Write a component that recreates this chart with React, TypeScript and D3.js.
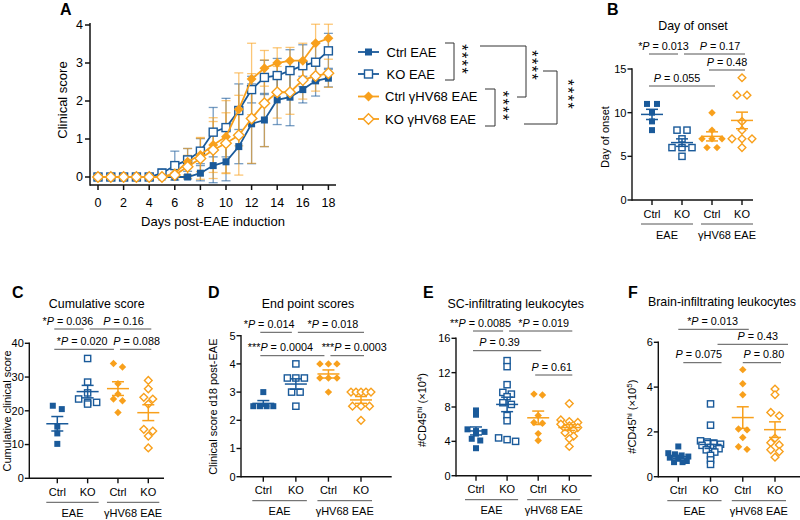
import React from 'react';
import * as d3 from 'd3';

const FONT = "'Liberation Sans', Arial, Helvetica, sans-serif";
const BLUE = '#1a5a9a';
const ORANGE = '#f8a01c';
const GRAY = '#555555';

// ---------------- Panel A data ----------------
const days = [0, 1, 2, 3, 4, 5, 6, 7, 8, 9, 10, 11, 12, 13, 14, 15, 16, 17, 18];
const dayTicks = [0, 2, 4, 6, 8, 10, 12, 14, 16, 18];
const scoreTicks = [0, 1, 2, 3, 4];
const seriesNames = ['Ctrl EAE', 'KO EAE', 'Ctrl γHV68 EAE', 'KO γHV68 EAE'];
const ctrlEAE = [0, 0, 0, 0, 0, 0, 0, 0, 0.1, 0.3, 0.4, 0.8, 1.4, 1.5, 2.03, 2.1, 2.3, 2.53, 2.6];
const ctrlEAEErr = [0, 0, 0, 0, 0, 0, 0, 0.05, 0.2, 0.45, 0.5, 0.45, 1.05, 0.7, 0.65, 0.75, 0.35, 0.4, 0.23];
const koEAE = [0, 0, 0, 0, 0, 0.1, 0.3, 0.45, 0.68, 1.18, 1.3, 1.75, 2.3, 2.62, 2.67, 2.8, 2.93, 3.02, 3.32];
const koEAEErr = [0, 0, 0, 0, 0, 0.12, 0.38, 0.3, 0.33, 0.65, 0.77, 0.7, 0.35, 0.45, 0.45, 0.55, 0.55, 0.5, 0.46];
const ctrlGHV = [0, 0, 0, 0, 0, 0, 0.1, 0.4, 0.58, 0.84, 1.06, 1.78, 2.58, 2.86, 3.0, 3.06, 3.06, 3.52, 3.65];
const ctrlGHVErr = [0, 0, 0, 0, 0, 0, 0.1, 0.35, 0.44, 0.72, 0.95, 0.96, 0.94, 0.47, 0.4, 0.35, 0.46, 0.5, 0.37];
const koGHV = [0, 0, 0, 0, 0, 0, 0.05, 0.27, 0.49, 0.71, 0.89, 1.1, 1.54, 1.94, 2.23, 2.23, 2.55, 2.66, 2.73];
const koGHVErr = [0, 0, 0, 0, 0, 0, 0.05, 0.3, 0.55, 0.75, 0.8, 1.05, 1.18, 1.14, 0.68, 0.58, 0.5, 0.4, 0.37];

// ---------------- Scatter panels data ----------------
const categories = ['Ctrl', 'KO', 'Ctrl', 'KO'];
const groupLabels = ['EAE', 'γHV68 EAE'];

// B: day of onset
const onsetCtrlEAE = [11, 11, 10, 9, 8];
const onsetKOEAE = [8, 8, 7, 6, 6, 6, 5];
const onsetCtrlGHV = [10, 8, 7, 7, 7, 6, 6];
const onsetKOGHV = [14, 12, 12, 9, 8, 7, 7, 7, 6];
const onsetTicks = [0, 5, 10, 15];
const onsetComps = [
  { a: 0, b: 1, stars: '*', p: '0.013' },
  { a: 1, b: 3, stars: '', p: '0.17' },
  { a: 2, b: 3, stars: '', p: '0.48' },
  { a: 0, b: 2, stars: '', p: '0.055' },
];

// C: cumulative score
const cumCtrlEAE = [21.5, 20.5, 15.3, 13.3, 10.2];
const cumKOEAE = [35.5, 28.5, 25.3, 23.5, 22.5, 22.5, 22.0];
const cumCtrlGHV = [34, 33, 28, 25, 23.5, 23, 19.5];
const cumKOGHV = [29, 26.5, 24, 23.5, 22, 14.5, 14, 12.5, 9];
const cumTicks = [0, 10, 20, 30, 40];
const cumComps = [
  { a: 0, b: 1, stars: '*', p: '0.036' },
  { a: 1, b: 3, stars: '', p: '0.16' },
  { a: 0, b: 2, stars: '*', p: '0.020' },
  { a: 2, b: 3, stars: '', p: '0.088' },
];

// D: end point scores
const endCtrlEAE = [3, 2.5, 2.5, 2.5, 2.5];
const endKOEAE = [4, 3.5, 3.5, 3.5, 3, 3, 2.5];
const endCtrlGHV = [4, 4, 4, 3.5, 3.5, 3.5, 3];
const endKOGHV = [3, 3, 3, 3, 3, 2.5, 2.5, 2.5, 2];
const endTicks = [0, 1, 2, 3, 4, 5];
const endComps = [
  { a: 0, b: 1, stars: '*', p: '0.014' },
  { a: 1, b: 3, stars: '*', p: '0.018' },
  { a: 0, b: 2, stars: '***', p: '0.0004' },
  { a: 2, b: 3, stars: '***', p: '0.0003' },
];

// E: SC-infiltrating leukocytes (x10^4)
const scCtrlEAE = [7.6, 7.1, 5.4, 5.2, 5.1, 4.9, 4.3, 4.1, 3.2];
const scKOEAE = [13.4, 12.7, 10.6, 9.7, 9.5, 9.2, 8.5, 8.3, 7.0, 6.4, 4.4, 4.2, 4.0];
const scCtrlGHV = [9.5, 9.4, 7.0, 6.2, 6.1, 4.9, 4.1];
const scKOGHV = [8.4, 6.5, 6.3, 6.2, 6.0, 5.8, 5.6, 5.5, 5.3, 5.0, 4.6, 4.3, 3.4];
const scTicks = [0, 4, 8, 12, 16];
const scComps = [
  { a: 0, b: 1, stars: '**', p: '0.0085' },
  { a: 1, b: 3, stars: '*', p: '0.019' },
  { a: 0, b: 2, stars: '', p: '0.39' },
  { a: 2, b: 3, stars: '', p: '0.61' },
];

// F: brain-infiltrating leukocytes (x10^5)
const brCtrlEAE = [1.35, 1.05, 1.0, 0.95, 0.9, 0.85, 0.8, 0.7, 0.65, 0.65];
const brKOEAE = [3.25, 2.3, 1.6, 1.55, 1.5, 1.45, 1.4, 1.3, 1.25, 1.2, 1.1, 0.95, 0.75, 0.55];
const brCtrlGHV = [4.78, 4.15, 3.66, 2.13, 2.09, 1.75, 1.34, 1.22];
const brKOGHV = [3.91, 3.66, 2.87, 2.72, 1.72, 1.52, 1.42, 1.2, 1.12, 0.87];
const brTicks = [0, 2, 4, 6];
const brComps = [
  { a: 0, b: 2, stars: '*', p: '0.013' },
  { a: 1, b: 3, stars: '', p: '0.43' },
  { a: 0, b: 1, stars: '', p: '0.075' },
  { a: 2, b: 3, stars: '', p: '0.80' },
];

const groupColors = [BLUE, BLUE, ORANGE, ORANGE];
const groupShapes = ['sqFill', 'sqOpen', 'diaFill', 'diaOpen'];

// ---------------- helpers ----------------
function Marker({ shape, x, y, color, s }: { shape: string; x: number; y: number; color: string; s: number }) {
  if (shape === 'sqFill') return <rect x={x - s / 2} y={y - s / 2} width={s} height={s} fill={color} />;
  if (shape === 'sqOpen')
    return <rect x={x - s / 2} y={y - s / 2} width={s} height={s} fill="#fff" stroke={color} strokeWidth={1.4} />;
  const r = s * 0.62;
  const d = `M${x},${y - r}L${x + r},${y}L${x},${y + r}L${x - r},${y}Z`;
  if (shape === 'diaFill') return <path d={d} fill={color} />;
  return <path d={d} fill="#fff" stroke={color} strokeWidth={1.4} />;
}

function Stars({ x, cy }: { x: number; cy: number }) {
  const fs = 16;
  return (
    <text
      transform={`translate(${x - 0.57 * fs},${cy + 0.8}) rotate(90)`}
      textAnchor="middle"
      fontSize={fs}
      letterSpacing={1.6}
    >
      ****
    </text>
  );
}

function PLabel({ x, y, stars, p, fs = 10.8 }: { x: number; y: number; stars: string; p: string; fs?: number }) {
  return (
    <text x={x} y={y} textAnchor="middle" fontSize={fs}>
      {stars}
      <tspan fontStyle="italic">P</tspan>
      {' = ' + p}
    </text>
  );
}

function layoutSwarm(values: number[], yS: (v: number) => number, rowH: number, step: number, maxW: number) {
  const sorted = values.map((v, i) => ({ v, i, py: yS(v) })).sort((a, b) => a.py - b.py);
  const rows: { v: number; py: number }[][] = [];
  let cur: { v: number; py: number }[] = [];
  let start = -1e9;
  sorted.forEach((p) => {
    if (p.py - start > rowH) {
      if (cur.length) rows.push(cur);
      cur = [p];
      start = p.py;
    } else cur.push(p);
  });
  if (cur.length) rows.push(cur);
  const out: { dx: number; py: number }[] = [];
  rows.forEach((row) => {
    const n = row.length;
    const st = n > 1 ? Math.min(step, maxW / (n - 1)) : 0;
    row.forEach((p, k) => out.push({ dx: (k - (n - 1) / 2) * st, py: p.py }));
  });
  return out;
}

type Comp = { a: number; b: number; stars: string; p: string };
type Cfg = {
  letter: string;
  letterX: number;
  letterY: number;
  title: string;
  titleX: number;
  titleY: number;
  axisX: number;
  axisEnd: number;
  yTop: number;
  yBottom: number;
  domainMax: number;
  ticks: number[];
  catX0: number;
  catX1: number;
  groups: number[][];
  comps: Comp[];
  compY: number[];
  compShift: number[];
  compDx: number[];
  ylabel: React.ReactNode;
  ylabelX: number;
  ylabelY: number;
  rowH: number;
  step: number;
  maxW: number;
};

function ScatterPanel({ c }: { c: Cfg }) {
  const y = d3.scaleLinear().domain([0, c.domainMax]).range([c.yBottom, c.yTop]);
  const x = d3.scalePoint<number>().domain([0, 1, 2, 3]).range([c.catX0, c.catX1]);
  const ax = c.yBottom;
  const lines = c.comps.map((cm, i) => {
    const lvl = c.compY[i];
    const sharedStart = c.comps.some((o, j) => j !== i && c.compY[j] === lvl && o.b === cm.a);
    const sharedEnd = c.comps.some((o, j) => j !== i && c.compY[j] === lvl && o.a === cm.b);
    const x1 = (x(cm.a) as number) + (sharedStart ? 2 : -3) + c.compShift[i];
    const x2 = (x(cm.b) as number) + (sharedEnd ? -4 : 3) + c.compShift[i];
    return { x1, x2, y: lvl, cm, dx: c.compDx[i] };
  });
  return (
    <g>
      <text x={c.letterX} y={c.letterY} fontSize={16} fontWeight="bold">
        {c.letter}
      </text>
      <text x={c.titleX} y={c.titleY} textAnchor="middle" fontSize={12.4}>
        {c.title}
      </text>
      {lines.map((l, i) => (
        <g key={i}>
          <line x1={l.x1} x2={l.x2} y1={l.y} y2={l.y} stroke={GRAY} strokeWidth={1} />
          <PLabel x={(l.x1 + l.x2) / 2 + l.dx} y={l.y - 4.5} stars={l.cm.stars} p={l.cm.p} />
        </g>
      ))}
      <line x1={c.axisX} x2={c.axisX} y1={c.yTop - 0.7} y2={ax + 0.7} stroke="#111" strokeWidth={1.4} />
      <line x1={c.axisX} x2={c.axisEnd} y1={ax} y2={ax} stroke="#111" strokeWidth={1.4} />
      {c.ticks.map((t) => (
        <g key={t}>
          <line x1={c.axisX - 4.5} x2={c.axisX} y1={y(t)} y2={y(t)} stroke="#111" strokeWidth={1.4} />
          <text x={c.axisX - 5.5} y={y(t)} dy="0.35em" textAnchor="end" fontSize={11}>
            {t}
          </text>
        </g>
      ))}
      {categories.map((cat, i) => (
        <g key={i}>
          <line x1={x(i)} x2={x(i)} y1={ax} y2={ax + 5} stroke="#111" strokeWidth={1.4} />
          <text x={x(i)} y={ax + 17.5} textAnchor="middle" fontSize={11}>
            {cat}
          </text>
        </g>
      ))}
      {groupLabels.map((g, gi) => {
        const xa = x(gi * 2) as number;
        const xb = x(gi * 2 + 1) as number;
        return (
          <g key={gi}>
            <line x1={xa - 11} x2={xb + 11} y1={ax + 24} y2={ax + 24} stroke={GRAY} strokeWidth={1} />
            <text x={(xa + xb) / 2} y={ax + 38.5} textAnchor="middle" fontSize={11}>
              {g}
            </text>
          </g>
        );
      })}
      <text transform={`translate(${c.ylabelX},${c.ylabelY}) rotate(-90)`} textAnchor="middle" dy="0.35em" fontSize={11}>
        {c.ylabel}
      </text>
      {c.groups.map((vals, gi) => {
        const pts = layoutSwarm(vals, y, c.rowH, c.step, c.maxW);
        const cx = x(gi) as number;
        return (
          <g key={gi}>
            {pts.map((p, k) => (
              <Marker key={k} shape={groupShapes[gi]} x={cx + p.dx} y={p.py} color={groupColors[gi]} s={gi % 2 === 0 ? 6 : 6.2} />
            ))}
          </g>
        );
      })}
      {c.groups.map((vals, gi) => {
        const m = d3.mean(vals) as number;
        const sem = (d3.deviation(vals) as number) / Math.sqrt(vals.length);
        const cx = x(gi) as number;
        const col = groupColors[gi];
        return (
          <g key={'m' + gi} stroke={col} strokeWidth={1.5}>
            <line x1={cx} x2={cx} y1={y(m - sem)} y2={y(m + sem)} />
            <line x1={cx - 6} x2={cx + 6} y1={y(m - sem)} y2={y(m - sem)} />
            <line x1={cx - 6} x2={cx + 6} y1={y(m + sem)} y2={y(m + sem)} />
            <line x1={cx - 11} x2={cx + 11} y1={y(m)} y2={y(m)} />
          </g>
        );
      })}
    </g>
  );
}

function CD45Label({ exp }: { exp: string }) {
  return (
    <>
      #CD45
      <tspan dy={-4} fontSize={8}>
        hi
      </tspan>
      <tspan dy={4}> (×10</tspan>
      <tspan dy={-4} fontSize={8}>
        {exp}
      </tspan>
      <tspan dy={4}>)</tspan>
    </>
  );
}

function PanelA() {
  const x = d3.scaleLinear().domain([0, 18]).range([98, 328.4]);
  const y = d3.scaleLinear().domain([0, 4]).range([177, 25]);
  const series = [
    { name: seriesNames[0], v: ctrlEAE, e: ctrlEAEErr, color: BLUE, shape: 'sqFill', s: 7 },
    { name: seriesNames[1], v: koEAE, e: koEAEErr, color: BLUE, shape: 'sqOpen', s: 8 },
    { name: seriesNames[2], v: ctrlGHV, e: ctrlGHVErr, color: ORANGE, shape: 'diaFill', s: 8 },
    { name: seriesNames[3], v: koGHV, e: koGHVErr, color: ORANGE, shape: 'diaOpen', s: 8.5 },
  ];
  const line = d3
    .line<number>()
    .x((_, i) => x(days[i]))
    .y((d) => y(d));
  const legendY = [52, 74, 96.5, 119];
  return (
    <g>
      <text x={60} y={15} fontSize={16} fontWeight="bold">
        A
      </text>
      {series.map((s, si) => (
        <g key={'e' + si} stroke={s.color} strokeOpacity={0.6} strokeWidth={1.3}>
          {days.map((d, i) =>
            s.e[i] > 0 ? (
              <g key={i}>
                <line x1={x(d)} x2={x(d)} y1={y(s.v[i] - s.e[i])} y2={y(s.v[i] + s.e[i])} />
                <line x1={x(d) - 4.5} x2={x(d) + 4.5} y1={y(s.v[i] - s.e[i])} y2={y(s.v[i] - s.e[i])} />
                <line x1={x(d) - 4.5} x2={x(d) + 4.5} y1={y(s.v[i] + s.e[i])} y2={y(s.v[i] + s.e[i])} />
              </g>
            ) : null
          )}
        </g>
      ))}
      {series.map((s, si) => (
        <g key={'l' + si}>
          <path d={line(s.v) as string} fill="none" stroke={s.color} strokeWidth={1.8} />
          {days.map((d, i) => (
            <Marker key={i} shape={s.shape} x={x(d)} y={y(s.v[i])} color={s.color} s={s.s} />
          ))}
        </g>
      ))}
      <line x1={90} x2={90} y1={23} y2={185.7} stroke="#111" strokeWidth={1.5} />
      <line x1={90} x2={336} y1={185} y2={185} stroke="#111" strokeWidth={1.5} />
      {scoreTicks.map((t) => (
        <g key={t}>
          <line x1={85} x2={90} y1={y(t)} y2={y(t)} stroke="#111" strokeWidth={1.5} />
          <text x={83} y={y(t)} dy="0.35em" textAnchor="end" fontSize={12.5}>
            {t}
          </text>
        </g>
      ))}
      {dayTicks.map((t) => (
        <g key={t}>
          <line x1={x(t)} x2={x(t)} y1={185} y2={190} stroke="#111" strokeWidth={1.5} />
          <text x={x(t)} y={206.5} textAnchor="middle" fontSize={12.5}>
            {t}
          </text>
        </g>
      ))}
      <text x={213} y={225.5} textAnchor="middle" fontSize={13}>
        Days post-EAE induction
      </text>
      <text transform="translate(62,100) rotate(-90)" textAnchor="middle" dy="0.35em" fontSize={13}>
        Clinical score
      </text>
      {series.map((s, si) => (
        <g key={'lg' + si}>
          <line x1={358} x2={379} y1={legendY[si]} y2={legendY[si]} stroke={s.color} strokeWidth={1.8} />
          <Marker shape={s.shape} x={368.5} y={legendY[si]} color={s.color} s={s.s} />
          <text x={si < 2 ? 386.5 : 385} y={legendY[si]} dy="0.36em" fontSize={13}>
            {s.name}
          </text>
        </g>
      ))}
      <g stroke="#333" strokeWidth={1} fill="none">
        <path d="M445,43H454V80H445" />
        <path d="M485,89H495V126H485" />
        <path d="M480,46H526V97H517" />
        <path d="M543,71H557V124H524" />
      </g>
      <Stars x={465} cy={59} />
      <Stars x={506.5} cy={105.5} />
      <Stars x={535} cy={65} />
      <Stars x={571.5} cy={94} />
    </g>
  );
}

const cfgB: Cfg = {
  letter: 'B', letterX: 607, letterY: 15,
  title: 'Day of onset', titleX: 693, titleY: 29.5,
  axisX: 632, axisEnd: 753, yTop: 69, yBottom: 200, domainMax: 15, ticks: onsetTicks,
  catX0: 652, catX1: 742,
  groups: [onsetCtrlEAE, onsetKOEAE, onsetCtrlGHV, onsetKOGHV],
  comps: onsetComps, compY: [54, 54, 70, 86], compShift: [0, 0, 0, 0], compDx: [0, 5.5, 0, -5],
  ylabel: 'Day of onset', ylabelX: 605, ylabelY: 137,
  rowH: 4, step: 10, maxW: 22,
};
const cfgC: Cfg = {
  letter: 'C', letterX: 12, letterY: 298,
  title: 'Cumulative score', titleX: 96.7, titleY: 307.5,
  axisX: 29.3, axisEnd: 164, yTop: 343.3, yBottom: 478.3, domainMax: 40, ticks: cumTicks,
  catX0: 57.3, catX1: 148.3,
  groups: [cumCtrlEAE, cumKOEAE, cumCtrlGHV, cumKOGHV],
  comps: cumComps, compY: [329, 329, 349.3, 349.3], compShift: [0, 0, 0, 0], compDx: [-1, 3, -2, 1],
  ylabel: 'Cumulative clinical score', ylabelX: 6.7, ylabelY: 411,
  rowH: 4, step: 9, maxW: 20,
};
const cfgD: Cfg = {
  letter: 'D', letterX: 208, letterY: 298,
  title: 'End point scores', titleX: 308, titleY: 308,
  axisX: 241, axisEnd: 391.7, yTop: 335.7, yBottom: 476.7, domainMax: 5, ticks: endTicks,
  catX0: 263.3, catX1: 361,
  groups: [endCtrlEAE, endKOEAE, endCtrlGHV, endKOGHV],
  comps: endComps, compY: [332.3, 332.3, 355.7, 355.7], compShift: [0, 0, 0, 0], compDx: [-7, 2, -12, 7],
  ylabel: 'Clinical score d18 post-EAE', ylabelX: 213.3, ylabelY: 406.7,
  rowH: 4, step: 8.5, maxW: 20,
};
const cfgE: Cfg = {
  letter: 'E', letterX: 423, letterY: 298,
  title: 'SC-infiltrating leukocytes', titleX: 515.7, titleY: 307.5,
  axisX: 456, axisEnd: 591.7, yTop: 338.3, yBottom: 475.7, domainMax: 16, ticks: scTicks,
  catX0: 476, catX1: 569.3,
  groups: [scCtrlEAE, scKOEAE, scCtrlGHV, scKOGHV],
  comps: scComps, compY: [331, 331, 350.7, 375], compShift: [0, 0, 0, 0], compDx: [-7.5, 3, -7.5, -2],
  ylabel: <CD45Label exp="4" />, ylabelX: 421.7, ylabelY: 410,
  rowH: 4, step: 8.5, maxW: 20,
};
const cfgF: Cfg = {
  letter: 'F', letterX: 628, letterY: 298,
  title: 'Brain-infiltrating leukocytes', titleX: 722, titleY: 306,
  axisX: 658.3, axisEnd: 800, yTop: 342.3, yBottom: 476.7, domainMax: 6, ticks: brTicks,
  catX0: 678.3, catX1: 775,
  groups: [brCtrlEAE, brKOEAE, brCtrlGHV, brKOGHV],
  comps: brComps, compY: [329.3, 344.3, 362.7, 362.7], compShift: [3, 10, 8, 3], compDx: [-1, 5, -3.6, 2],
  ylabel: <CD45Label exp="5" />, ylabelX: 631.7, ylabelY: 416.7,
  rowH: 4, step: 8.5, maxW: 20,
};

export default function App() {
  return (
    <svg
      width={800}
      height={520}
      viewBox="0 0 800 520"
      style={{ position: 'absolute', left: 0, top: 0, background: '#fff', fontFamily: FONT }}
      fontFamily={FONT}
    >
      <rect x={0} y={0} width={800} height={520} fill="#fff" />
      <PanelA />
      <ScatterPanel c={cfgB} />
      <ScatterPanel c={cfgC} />
      <ScatterPanel c={cfgD} />
      <ScatterPanel c={cfgE} />
      <ScatterPanel c={cfgF} />
    </svg>
  );
}
